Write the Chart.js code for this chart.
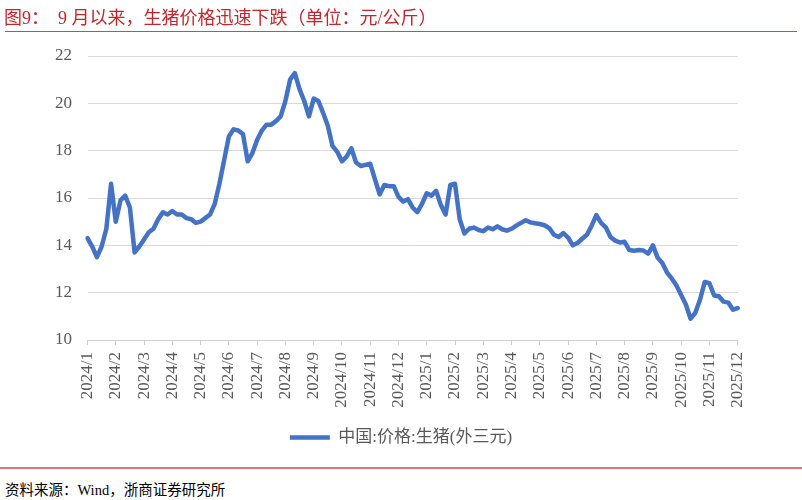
<!DOCTYPE html>
<html>
<head>
<meta charset="utf-8">
<script src="https://cdn.jsdelivr.net/npm/chart.js@4"></script>
<style>
  body { margin: 0; background: #fff; }
  #wrap { position: relative; width: 802px; height: 500px; overflow: hidden; }
  #title {
    position: absolute; left: 4px; top: 3px; white-space: pre;
    font: 18px "Liberation Serif", "Noto Sans CJK SC", serif; color: #c0272d;
  }
  #titleLine { position: absolute; left: 5px; top: 31px; width: 792px; border-top: 1px solid #c0504d; }
  #bottomLine { position: absolute; left: 0; top: 467px; width: 802px; border-top: 2px solid #d9777b; }
  #source {
    position: absolute; left: 5px; top: 478px; white-space: pre;
    font: 14.5px "Liberation Serif", "Noto Sans CJK SC", serif; color: #000;
  }
  #chartBox { position: absolute; left: 0; top: 0; width: 802px; height: 456px; }
</style>
</head>
<body>
<div id="wrap">
  <div id="chartBox"><canvas id="priceChart"></canvas></div>
  <div id="title">图9：  9 月以来，生猪价格迅速下跌（单位：元/公斤）</div>
  <div id="titleLine"></div>
  <div id="bottomLine"></div>
  <div id="source">资料来源：Wind，浙商证券研究所</div>
</div>
<script>
// month tick labels, 6 samples per month, last sample = 2025/12
const months = [
  "2024/1", "2024/2", "2024/3", "2024/4", "2024/5", "2024/6",
  "2024/7", "2024/8", "2024/9", "2024/10", "2024/11", "2024/12",
  "2025/1", "2025/2", "2025/3", "2025/4", "2025/5", "2025/6",
  "2025/7", "2025/8", "2025/9", "2025/10", "2025/11", "2025/12"
];
const samplesPerMonth = 6;

// 中国:价格:生猪(外三元), 元/公斤
const prices = [
  14.3, 13.95, 13.5, 13.95, 14.7, 16.6,
  15.0, 15.9, 16.1, 15.6, 13.7, 13.95,
  14.25, 14.55, 14.7, 15.1, 15.4, 15.3,
  15.45, 15.3, 15.3, 15.15, 15.1, 14.95,
  15.0, 15.15, 15.3, 15.75, 16.6, 17.6,
  18.6, 18.9, 18.85, 18.7, 17.55, 17.9,
  18.45, 18.85, 19.1, 19.1, 19.25, 19.45,
  20.1, 21.0, 21.28, 20.6, 20.1, 19.45,
  20.2, 20.1, 19.6, 19.05, 18.2, 17.95,
  17.55, 17.75, 18.1, 17.5, 17.35, 17.4,
  17.45, 16.8, 16.15, 16.55, 16.5, 16.5,
  16.05, 15.85, 15.95, 15.6, 15.4, 15.75,
  16.2, 16.1, 16.3, 15.7, 15.3, 16.55,
  16.6, 15.1, 14.5, 14.7, 14.75, 14.65,
  14.6, 14.75, 14.68, 14.8, 14.68, 14.62,
  14.7, 14.83, 14.95, 15.06, 14.97, 14.93,
  14.9, 14.85, 14.73, 14.45, 14.35, 14.52,
  14.33, 14.0, 14.1, 14.28, 14.45, 14.83,
  15.28, 14.95, 14.76, 14.35, 14.2, 14.12,
  14.15, 13.8, 13.77, 13.8, 13.78, 13.65,
  14.0, 13.48, 13.25, 12.85, 12.6, 12.3,
  11.9, 11.5, 10.9, 11.15, 11.7, 12.45,
  12.4, 11.88, 11.85, 11.62, 11.58, 11.28,
  11.35
];

const yMin = 10;
const yMax = 22;
const yStep = 2;

const labels = prices.map((v, i) =>
  i % samplesPerMonth === 0 ? months[i / samplesPerMonth] : ""
);

const fontFamily = "'Liberation Serif', 'Noto Sans CJK SC', serif";
Chart.defaults.font.family = fontFamily;
Chart.defaults.color = "#595959";

const ctx = document.getElementById("priceChart").getContext("2d");
new Chart(ctx, {
  type: "line",
  data: {
    labels: labels,
    datasets: [
      {
        label: "中国:价格:生猪(外三元)",
        data: prices,
        borderColor: "#4472C4",
        backgroundColor: "#4472C4",
        borderWidth: 4.5,
        pointRadius: 0,
        borderJoinStyle: "round",
        borderCapStyle: "round",
        tension: 0,
      },
    ],
  },
  options: {
    responsive: true,
    maintainAspectRatio: false,
    animation: false,
    layout: { padding: { top: 56, right: 0, bottom: 0, left: 0 } },
    plugins: {
      tooltip: { enabled: false },
      legend: {
        position: "bottom",
        labels: {
          usePointStyle: true,
          pointStyle: "line",
          pointStyleWidth: 40,
          padding: 10,
          color: "#595959",
          font: { size: 17 },
        },
      },
    },
    scales: {
      x: {
        type: "category",
        grid: {
          drawOnChartArea: false,
          drawTicks: true,
          tickLength: 5,
          tickColor: (c) => (c.index % samplesPerMonth === 0 ? "#d0d0d0" : "rgba(0,0,0,0)"),
        },
        border: { display: true, color: "#d0d0d0", width: 1 },
        ticks: {
          autoSkip: false,
          maxRotation: 90,
          minRotation: 90,
          padding: 7,
          color: "#595959",
          font: { size: 17 },
          callback: (value, index) => labels[index],
        },
        afterFit: (scale) => {
          scale.height = 79;
        },
      },
      y: {
        min: yMin,
        max: yMax,
        grid: { color: "#d9d9d9", drawTicks: false, lineWidth: 1 },
        border: { display: false },
        ticks: {
          stepSize: yStep,
          padding: 15.5,
          color: "#595959",
          font: { size: 17 },
        },
        afterFit: (scale) => {
          scale.width = 87.5;
        },
      },
      pad: {
        position: "right",
        display: true,
        grid: { display: false },
        border: { display: false },
        ticks: { display: false },
        afterFit: (scale) => {
          scale.width = 64.3;
        },
      },
    },
  },
});
</script>
</body>
</html>
